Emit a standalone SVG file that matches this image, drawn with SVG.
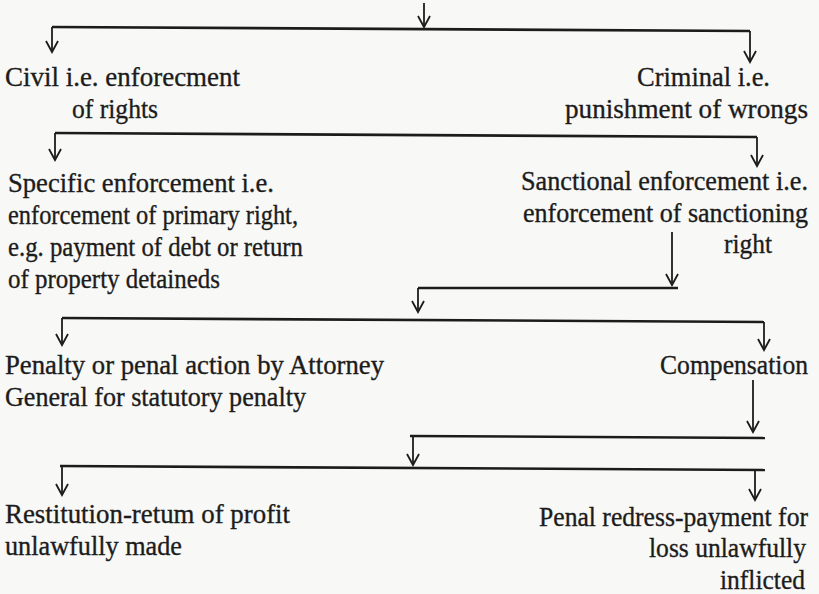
<svg xmlns="http://www.w3.org/2000/svg" width="819" height="594" viewBox="0 0 819 594">
<style>
text{font-family:"Liberation Serif","Times New Roman",serif;font-size:28px;fill:#1c1c1c;stroke:#1c1c1c;stroke-width:0.35}
.e{text-anchor:end}
.bar{stroke:#1c1c1c;stroke-width:2.6;fill:none}
.arr{stroke:#1c1c1c;stroke-width:1.8;fill:none;marker-end:url(#ah)}
</style>
<defs>
<marker id="ah" markerUnits="userSpaceOnUse" viewBox="-13 -8 15 16" markerWidth="15" markerHeight="16" refX="0" refY="0" orient="auto">
<path d="M-11,-6 L0,0 L-11,6" fill="none" stroke="#1c1c1c" stroke-width="1.8"/>
</marker>
</defs>
<rect width="819" height="594" fill="#f8f8f6"/>
<g id="connectors">
<path class="arr" d="M424,3 V27"/>
<path class="bar" d="M52,27 L750,31"/>
<path class="arr" d="M52,27 V52"/>
<path class="arr" d="M750,31 V62"/>
<path class="bar" d="M55,133 L757,137"/>
<path class="arr" d="M55,133 V160"/>
<path class="arr" d="M757,137 V166"/>
<path class="arr" d="M672,232 V285"/>
<path class="bar" d="M418,288 L678,288"/>
<path class="arr" d="M418,288 V312"/>
<path class="bar" d="M62,318 L764,322"/>
<path class="arr" d="M62,318 V345"/>
<path class="arr" d="M764,322 V350"/>
<path class="arr" d="M753,380 V432"/>
<path class="bar" d="M410,436 L765,438"/>
<path class="arr" d="M413,437 V465"/>
<path class="bar" d="M60,466 L765,470"/>
<path class="arr" d="M62,467 V495"/>
<path class="arr" d="M755,470 V500"/>
</g>
<g id="civil">
<text x="5" y="86" textLength="235" lengthAdjust="spacingAndGlyphs">Civil i.e. enforecment</text>
<text x="72" y="118" textLength="86" lengthAdjust="spacingAndGlyphs">of rights</text>
</g>
<g id="criminal">
<text class="e" x="770" y="86" textLength="133" lengthAdjust="spacingAndGlyphs">Criminal i.e.</text>
<text class="e" x="808" y="118" textLength="243" lengthAdjust="spacingAndGlyphs">punishment of wrongs</text>
</g>
<g id="specific">
<text x="8" y="192" textLength="266" lengthAdjust="spacingAndGlyphs">Specific enforcement i.e.</text>
<text x="8" y="224" textLength="290" lengthAdjust="spacingAndGlyphs">enforcement of primary right,</text>
<text x="8" y="256" textLength="295" lengthAdjust="spacingAndGlyphs">e.g. payment of debt or return</text>
<text x="8" y="288" textLength="212" lengthAdjust="spacingAndGlyphs">of property detaineds</text>
</g>
<g id="sanctional">
<text class="e" x="808" y="190" textLength="287" lengthAdjust="spacingAndGlyphs">Sanctional enforcement i.e.</text>
<text class="e" x="808" y="222" textLength="285" lengthAdjust="spacingAndGlyphs">enforcement of sanctioning</text>
<text x="724" y="253" textLength="48" lengthAdjust="spacingAndGlyphs">right</text>
</g>
<g id="penalty">
<text x="5" y="374" textLength="379" lengthAdjust="spacingAndGlyphs">Penalty or penal action by Attorney</text>
<text x="5" y="406" textLength="301" lengthAdjust="spacingAndGlyphs">General for statutory penalty</text>
</g>
<g id="compensation">
<text class="e" x="808" y="374" textLength="148" lengthAdjust="spacingAndGlyphs">Compensation</text>
</g>
<g id="restitution">
<text x="5" y="523" textLength="285" lengthAdjust="spacingAndGlyphs">Restitution-retum of profit</text>
<text x="5" y="555" textLength="177" lengthAdjust="spacingAndGlyphs">unlawfully made</text>
</g>
<g id="redress">
<text class="e" x="808" y="526" textLength="269" lengthAdjust="spacingAndGlyphs">Penal redress-payment for</text>
<text class="e" x="806" y="557" textLength="157" lengthAdjust="spacingAndGlyphs">loss unlawfully</text>
<text class="e" x="805" y="589" textLength="85" lengthAdjust="spacingAndGlyphs">inflicted</text>
</g>
</svg>
